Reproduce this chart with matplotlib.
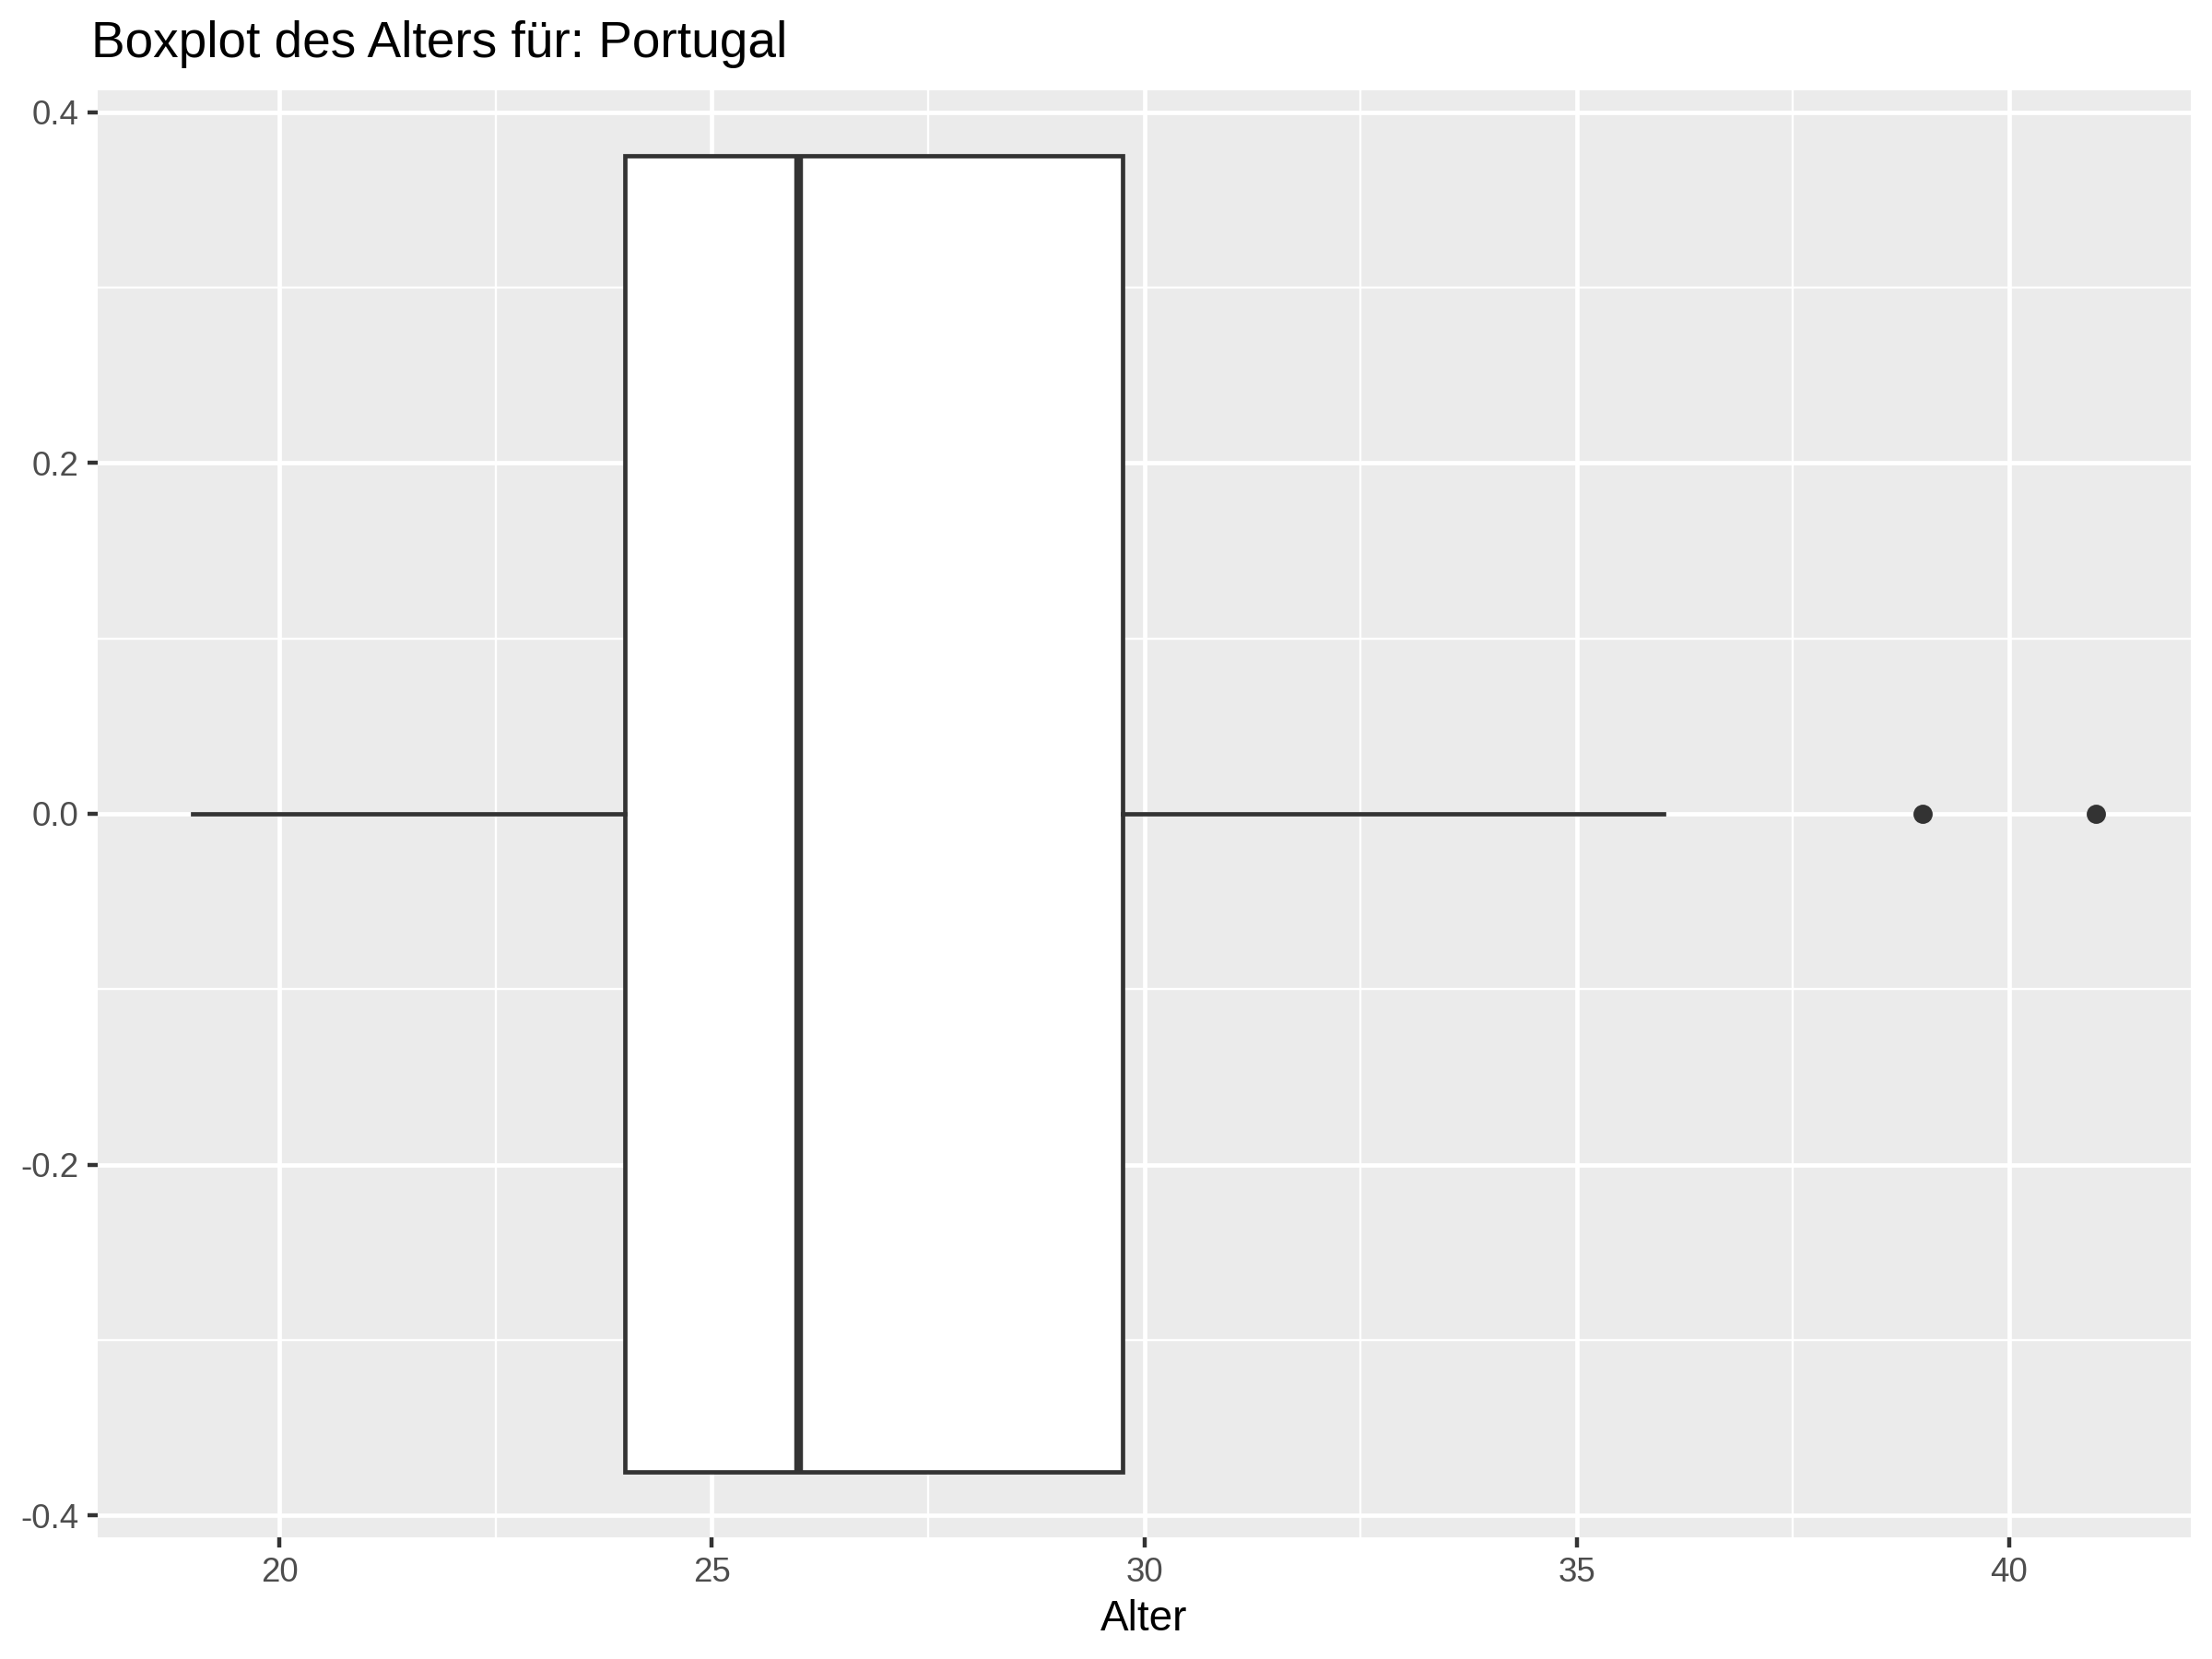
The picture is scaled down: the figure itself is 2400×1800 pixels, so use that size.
import matplotlib
matplotlib.use("Agg")
import matplotlib.pyplot as plt
import numpy as np

plt.rcParams['font.family'] = ['Liberation Sans', 'DejaVu Sans']
plt.rcParams['axes.unicode_minus'] = False

country = "Portugal"
# box stats
whisker_lo = 19
q1 = 24
median = 26
q3 = 29.75
whisker_hi = 36
outliers = [39, 41]

x_ticks = [20, 25, 30, 35, 40]
x_minor = [22.5, 27.5, 32.5, 37.5]
y_ticks = [-0.4, -0.2, 0.0, 0.2, 0.4]
y_minor = [-0.3, -0.1, 0.1, 0.3]
y_labels = ["-0.4", "-0.2", "0.0", "0.2", "0.4"]

fig = plt.figure(figsize=(12, 9), dpi=200)
ax = fig.add_axes([0.0442, 0.0733, 0.9904 - 0.0442, 0.9456 - 0.0733])
ax.set_facecolor("#EBEBEB")
for s in ax.spines.values():
    s.set_visible(False)

for v in x_minor:
    ax.axvline(v, color="white", lw=0.85, zorder=0)
for v in y_minor:
    ax.axhline(v, color="white", lw=0.85, zorder=0)
for v in x_ticks:
    ax.axvline(v, color="white", lw=1.7, zorder=0)
for v in y_ticks:
    ax.axhline(v, color="white", lw=1.7, zorder=0)

stats = [dict(whislo=whisker_lo, q1=q1, med=median, q3=q3, whishi=whisker_hi, fliers=outliers)]
ax.bxp(stats, positions=[0], widths=0.75, orientation="horizontal",
       showcaps=False, patch_artist=True,
       boxprops=dict(facecolor="white", edgecolor="#333333", linewidth=1.7),
       medianprops=dict(color="#333333", linewidth=3.4, solid_capstyle="butt"),
       whiskerprops=dict(color="#333333", linewidth=1.7),
       flierprops=dict(marker="o", markersize=6.5, markerfacecolor="#333333",
                       markeredgecolor="#333333"),
       zorder=3)

ax.set_xlim(17.9, 42.1)
ax.set_ylim(-0.4125, 0.4125)
ax.set_xticks(x_ticks)
ax.set_xticklabels([str(v) for v in x_ticks])
ax.set_yticks(y_ticks)
ax.set_yticklabels(y_labels)
ax.tick_params(axis="both", colors="#333333", labelcolor="#4D4D4D",
               labelsize=13.2, length=4.1, width=1.6, pad=3.3)

ax.set_xlabel("Alter", fontsize=16.5, color="black", labelpad=4)
ax.set_title("Boxplot des Alters für: " + country, fontsize=19.8, loc="left",
             x=-0.003, pad=13, color="black")

fig.savefig("out.png", dpi=200)
